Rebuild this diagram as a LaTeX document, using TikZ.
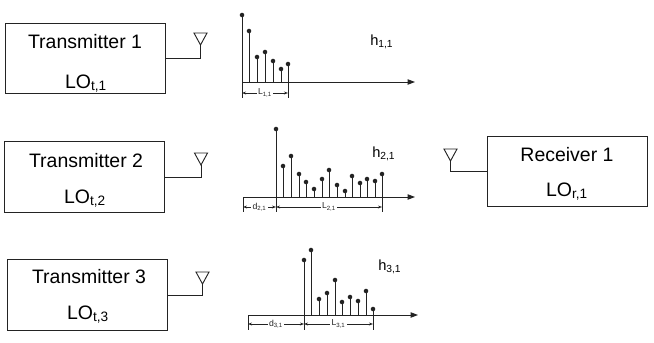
\documentclass[tikz,border=0pt]{standalone}
\usepackage{fontspec}
\setmainfont{Liberation Sans}
\usetikzlibrary{arrows.meta,positioning}
\definecolor{linegray}{RGB}{35,35,35}
\tikzset{
  txbox/.style={draw=linegray, line width=0.7pt, minimum width=120pt,
                minimum height=53pt, inner sep=0pt},
  boxtxt/.style={font=\fontsize{14.6}{16}\selectfont, anchor=base, inner sep=0pt},
  axarr/.style={-{Triangle[length=5.5pt,width=4pt]}, linegray, line width=0.6pt},
  dimarr/.style={{Stealth[length=3pt,width=2.2pt]}-{Stealth[length=3pt,width=2.2pt]},
                 linegray, line width=0.45pt},
  dimtxt/.style={font=\fontsize{6.5}{7}\selectfont, fill=white, inner sep=1pt},
  htxt/.style={font=\fontsize{11}{12}\selectfont, anchor=base west, inner sep=0pt},
  stem/.style={linegray, line width=0.6pt},
  feed/.style={linegray, line width=0.7pt},
  antenna/.pic={\draw[linegray, line width=0.7pt] (-6.5,-12) -- (6.5,-12) -- (0,0) -- cycle;},
}
\begin{document}
\begin{tikzpicture}[x=0.75pt,y=-0.75pt]
  \useasboundingbox (0,0) rectangle (654,343);
  % transmitters and receiver
  \node[txbox] (tx1) at (85,58.5) {};
  \node[boxtxt] (tx1name) at (85,48) {Transmitter 1};
  \node[boxtxt] (tx1lo) at (86,88) {LO\textsubscript{t,1}};
  \node[txbox] (tx2) at (84.5,177) {};
  \node[boxtxt] (tx2name) at (86,167) {Transmitter 2};
  \node[boxtxt] (tx2lo) at (85,203) {LO\textsubscript{t,2}};
  \node[txbox] (tx3) at (87,295) {};
  \node[boxtxt] (tx3name) at (89,283) {Transmitter 3};
  \node[boxtxt] (tx3lo) at (88,319) {LO\textsubscript{t,3}};
  \node[txbox] (rx1) at (567,171.5) {};
  \node[boxtxt] (rx1name) at (567,161) {Receiver 1};
  \node[boxtxt] (rx1lo) at (567,196) {LO\textsubscript{r,1}};
  % antennas
  \coordinate (ant1) at (200.5,45);
  \coordinate (ant2) at (201,165);
  \coordinate (ant3) at (202.5,284);
  \coordinate (antr) at (450.5,161);
  \pic at (ant1) {antenna};
  \pic at (ant2) {antenna};
  \pic at (ant3) {antenna};
  \pic at (antr) {antenna};
  \draw[feed] (tx1.east) -| (ant1);
  \draw[feed] (tx2.east) -| (ant2);
  \draw[feed] (tx3.east) -| (ant3);
  \draw[feed] (rx1.west) -| (antr);
  % channel h_{1,1}
  \draw[axarr] (242,82) -- (415,82);
  \foreach \x/\y in {242/15,249/31,257/57,265/52,273/61,281/69,288/64}{
    \draw[stem] (\x,82) -- (\x,\y);
    \fill[linegray] (\x,\y) circle[radius=1.7pt];
  }
  \draw[stem] (242,82) -- (242,98);
  \draw[stem] (288,82) -- (288,98);
  \draw[dimarr] (242,93) -- (288,93) node[dimtxt, midway] (len11) {L\textsubscript{1,1}};
  \node[htxt] (h11) at (370,45) {h\textsubscript{1,1}};
  % channel h_{2,1}
  \draw[axarr] (243,197) -- (415,197);
  \foreach \x/\y in {276/129,283/166,291/156,299/174,306/182,314/189,322/179,329/170,
                     337/185,345/191,352/176,360/183,367/179,375/181,382/174}{
    \draw[stem] (\x,197) -- (\x,\y);
    \fill[linegray] (\x,\y) circle[radius=1.7pt];
  }
  \draw[stem] (243,197) -- (243,212);
  \draw[stem] (276,197) -- (276,212);
  \draw[stem] (382,197) -- (382,212);
  \draw[dimarr] (243,207) -- (276,207) node[dimtxt, midway] (del21) {d\textsubscript{2,1}};
  \draw[dimarr] (276,207) -- (382,207) node[dimtxt, midway] (len21) {L\textsubscript{2,1}};
  \node[htxt] (h21) at (372,157) {h\textsubscript{2,1}};
  % channel h_{3,1}
  \draw[axarr] (248,315) -- (418,315);
  \foreach \x/\y in {304/260,311/250,319/299,327/293,335/280,342/302,350/297,358/301,
                     366/291,373/309}{
    \draw[stem] (\x,315) -- (\x,\y);
    \fill[linegray] (\x,\y) circle[radius=1.7pt];
  }
  \draw[stem] (248,315) -- (248,330);
  \draw[stem] (304,315) -- (304,330);
  \draw[stem] (373,315) -- (373,330);
  \draw[dimarr] (248,324) -- (304,324) node[dimtxt, midway] (del31) {d\textsubscript{3,1}};
  \draw[dimarr] (304,324) -- (373,324) node[dimtxt, midway] (len31) {L\textsubscript{3,1}};
  \node[htxt] (h31) at (378,270) {h\textsubscript{3,1}};
\end{tikzpicture}
\end{document}
